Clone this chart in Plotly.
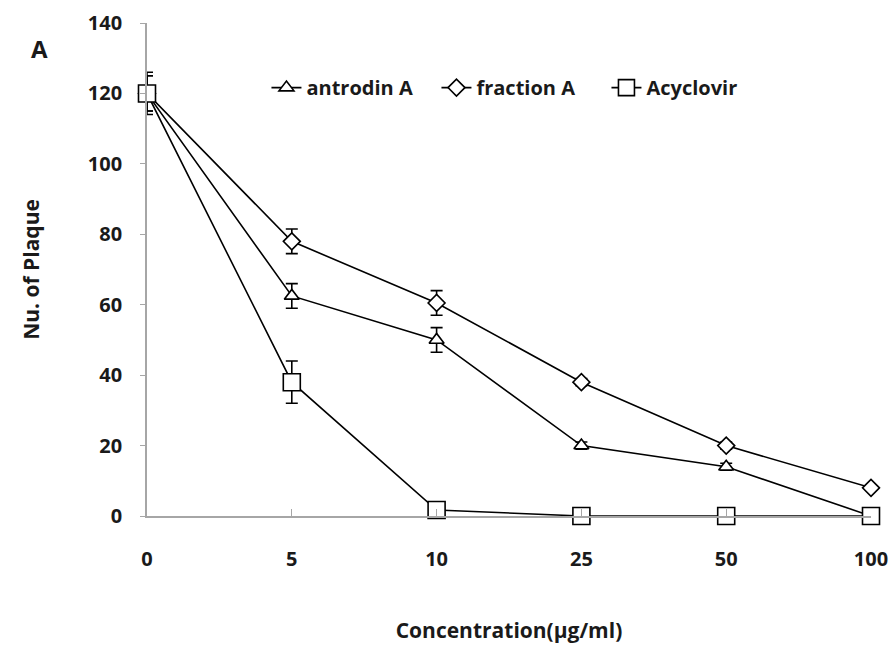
import plotly.graph_objects as go

categories = ["0", "5", "10", "25", "50", "100"]
antrodin_A = [120, 62.5, 50, 20, 14, 0]
antrodin_A_err = [5, 3.5, 3.5, 1, 1, 0.5]
fraction_A = [120, 78, 60.5, 38, 20, 8]
fraction_A_err = [5, 3.5, 3.5, 1, 1, 0.5]
acyclovir = [120, 38, 1.7, 0, 0, 0]
acyclovir_err = [6, 6, 0.5, 0, 0, 0]
y_ticks = [0, 20, 40, 60, 80, 100, 120, 140]

xpos = list(range(len(categories)))
font_family = "Open Sans, Liberation Sans, sans-serif"
text_color = "#1a1a1a"

fig = go.Figure()


def add(name, y, err, symbol, size):
    fig.add_trace(go.Scatter(
        x=xpos, y=y, name=name, mode="lines+markers",
        line=dict(color="black", width=1.6),
        marker=dict(symbol=symbol, size=size, color="white",
                    line=dict(color="black", width=1.6)),
        error_y=dict(type="data", array=err, visible=True,
                     color="black", thickness=1.6, width=6),
        cliponaxis=False,
    ))


add("antrodin A", antrodin_A, antrodin_A_err, "triangle-up", 13)
add("fraction A", fraction_A, fraction_A_err, "diamond", 13)
add("Acyclovir", acyclovir, acyclovir_err, "square", 17)

fig.update_layout(
    width=893, height=668,
    margin=dict(l=147, r=22, t=23, b=152, autoexpand=False),
    paper_bgcolor="white", plot_bgcolor="white",
    font=dict(family=font_family, size=20, color=text_color, weight="bold"),
    showlegend=True,
    legend=dict(orientation="h", x=0.165, y=0.869, xanchor="left", yanchor="middle",
                bgcolor="rgba(0,0,0,0)", font=dict(size=20, color=text_color),
                itemwidth=30, tracegroupgap=0,
                entrywidthmode="pixels", entrywidth=125),
    xaxis=dict(
        range=[0, 5], tickmode="array", tickvals=xpos, ticktext=categories,
        automargin=False,
        showgrid=False, zeroline=False, showline=True, linecolor="#a6a6a6", linewidth=1.8,
        ticks="inside", ticklen=7, tickcolor="#a6a6a6", tickwidth=1.2,
        ticklabelstandoff=24,
        title=dict(text="Concentration(μg/ml)", standoff=52, font=dict(size=21)),
    ),
    yaxis=dict(
        range=[0, 140], tickmode="array", tickvals=y_ticks,
        automargin=False,
        showgrid=False, zeroline=False, showline=True, linecolor="#a6a6a6", linewidth=1.8,
        ticks="outside", ticklen=5, tickcolor="#a6a6a6", tickwidth=1.2,
        ticklabelstandoff=14,
        title=dict(text="Nu. of Plaque", standoff=42, font=dict(size=21)),
    ),
)

fig.add_annotation(text="A", xref="paper", yref="paper", x=-0.148, y=0.949,
                   showarrow=False, xanchor="center", yanchor="middle",
                   font=dict(size=24, family=font_family, color=text_color, weight="bold"))

fig.write_html(
    "out.html",
    config={"displayModeBar": False},
    post_script="document.body.style.margin='0';document.body.style.overflow='hidden';",
)
